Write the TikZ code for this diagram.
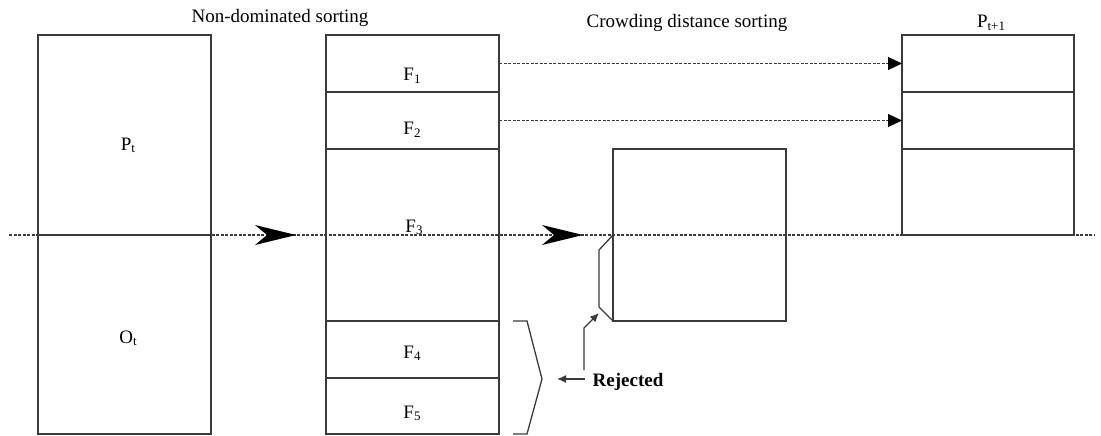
\documentclass[tikz,border=0pt]{standalone}
\usepackage{fontspec}
\setmainfont{Liberation Serif}
\usetikzlibrary{arrows.meta}
\definecolor{ink}{HTML}{3A3A3A}
\newcommand{\lowsub}[1]{\raisebox{-0.25ex}{\fontsize{13}{15}\selectfont #1}}
\begin{document}
\begin{tikzpicture}[x=1pt,y=-1pt,
  box/.style={draw=ink,line width=1.3pt,rectangle,inner sep=0pt,outer sep=0pt},
  lbl/.style={anchor=base,inner sep=0pt,font=\fontsize{19}{22}\selectfont},
  dline/.style={draw=ink,line width=1.1pt,dash pattern=on 3pt off 1.5pt},
  smalltip/.style={-{Latex[length=9pt,width=8pt]},draw=ink,line width=1.3pt}]
\useasboundingbox (0,0) rectangle (1101,436);
% main dashed line
\coordinate (mstart) at (9,235);
\coordinate (mend) at (1095,235);
\draw[dline] (mstart) -- (mend);
% left column
\node[box,minimum width=173pt,minimum height=200pt] (pt) at (124.5,135) {};
\node[box,minimum width=173pt,minimum height=199pt] (ot) at (124.5,334.5) {};
% middle column
\node[box,minimum width=173pt,minimum height=57pt] (f1) at (412.5,63.5) {};
\node[box,minimum width=173pt,minimum height=57pt] (f2) at (412.5,120.5) {};
\node[box,minimum width=173pt,minimum height=172pt] (f3) at (412.5,235) {};
\node[box,minimum width=173pt,minimum height=57pt] (f4) at (412.5,349.5) {};
\node[box,minimum width=173pt,minimum height=56pt] (f5) at (412.5,406) {};
% P_{t+1}
\node[box,minimum width=172pt,minimum height=57pt] (q1) at (988,63.5) {};
\node[box,minimum width=172pt,minimum height=57pt] (q2) at (988,120.5) {};
\node[box,minimum width=172pt,minimum height=86pt] (q3) at (988,192) {};
% crowding box
\node[box,minimum width=173pt,minimum height=172pt] (cd) at (699.5,235) {};
\draw[draw=ink,line width=1.3pt] (cd.west) -- ++(-14,15) -- ++(0,57) -- (cd.south west);
% labels
\node[lbl] (tnd) at (280,23) {Non-dominated sorting};
\node[lbl] (tcd) at (687,28) {Crowding distance sorting};
\node[lbl] (tp1) at (991,28) {P\lowsub{t+1}};
\node[lbl] (lpt) at (128,150) {P\lowsub{t}};
\node[lbl] (lot) at (128,343) {O\lowsub{t}};
\node[lbl] (l1) at (412,81) {F\lowsub{1}};
\node[lbl] (l2) at (412,135) {F\lowsub{2}};
\node[lbl] (l3) at (414,232) {F\lowsub{3}};
\node[lbl] (l4) at (412,358) {F\lowsub{4}};
\node[lbl] (l5) at (412,418) {F\lowsub{5}};
\node[lbl,font=\fontsize{19}{22}\selectfont\bfseries] (rej) at (628,386) {Rejected};
% big arrowheads
\coordinate (a1e) at (296,235);
\coordinate (a2e) at (583,235);
\fill[black] (a1e) -- ++(-41,-10) -- ++(12,10) -- ++(-12,10) -- cycle;
\fill[black] (a2e) -- ++(-41,-10) -- ++(12,10) -- ++(-12,10) -- cycle;
% dashed arrows to P_{t+1}
\draw[dline,-{Triangle[length=14pt,width=13pt,fill=black,color=black]}] (f1.east) -- (q1.west);
\draw[dline,-{Triangle[length=14pt,width=13pt,fill=black,color=black]}] (f2.east) -- (q2.west);
% bracket
\coordinate (b1) at (513,321);
\coordinate (b2) at (527,321);
\coordinate (b3) at (542,379);
\coordinate (b4) at (527,434);
\coordinate (b5) at (513,434);
\draw[draw=ink,line width=1.3pt] (b1) -- (b2) -- (b3) -- (b4) -- (b5);
% rejected arrows
\coordinate (r0) at (585,379);
\coordinate (r1) at (557,379);
\draw[smalltip] (r0) -- (r1);
\coordinate (u0) at (584,370);
\coordinate (u1) at (584,328);
\coordinate (u2) at (599,313);
\draw[smalltip] (u0) -- (u1) -- (u2);
\end{tikzpicture}
\end{document}
